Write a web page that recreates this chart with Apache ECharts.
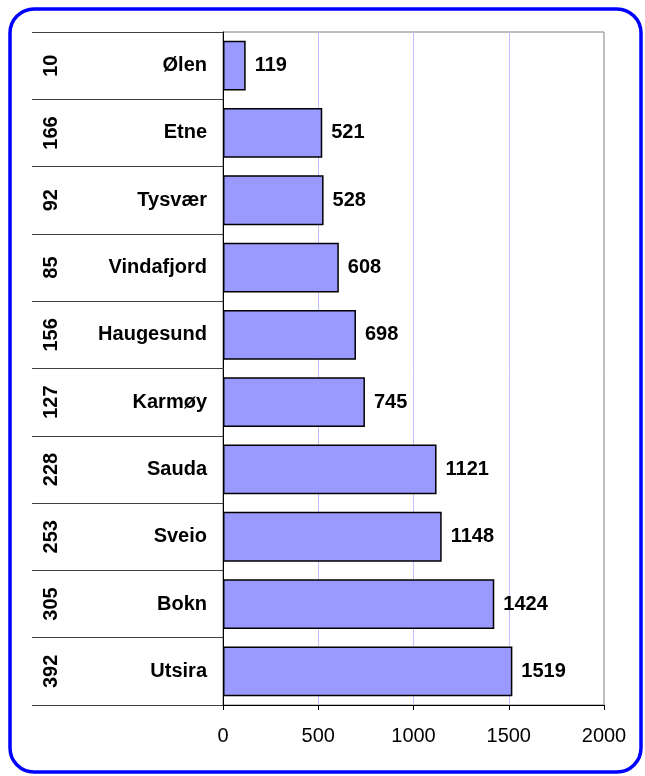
<!DOCTYPE html>
<html>
<head>
<meta charset="utf-8">
<script src="https://cdn.jsdelivr.net/npm/echarts@6/dist/echarts.min.js"></script>
<style>
  html, body { margin: 0; padding: 0; background: #fff; }
  #chart { width: 645px; height: 776px; }
</style>
</head>
<body>
<div id="chart"></div>
<script>
// kommuner, topp til bunn
const places = ["Ølen", "Etne", "Tysvær", "Vindafjord", "Haugesund", "Karmøy", "Sauda", "Sveio", "Bokn", "Utsira"];
const counts = ["10", "166", "92", "85", "156", "127", "228", "253", "305", "392"];
const values = [119, 521, 528, 608, 698, 745, 1121, 1148, 1424, 1519];
const xTicks = [0, 500, 1000, 1500, 2000];

const font = "Liberation Sans, Arial, sans-serif";

const chart = echarts.init(document.getElementById("chart"));
chart.setOption({
  animation: false,
  backgroundColor: "#fff",
  graphic: [{
    type: "rect",
    shape: { x: 10, y: 9, width: 631, height: 763, r: 24 },
    style: { fill: "none", stroke: "#0000ff", lineWidth: 3.5 },
    z: 100
  }],
  grid: {
    left: 223, right: 41, top: 32, bottom: 71,
    show: true, borderColor: "#808080", borderWidth: 1
  },
  xAxis: {
    type: "value",
    min: xTicks[0], max: xTicks[xTicks.length - 1], interval: 500,
    axisLine: { show: true, lineStyle: { color: "#000", width: 1 } },
    axisTick: { show: true, length: 5, lineStyle: { color: "#000" } },
    axisLabel: { margin: 21, fontFamily: font, fontSize: 20, color: "#000", formatter: v => String(v) },
    splitLine: { show: true, showMinLine: false, showMaxLine: false, lineStyle: { color: "#c0c0ff", width: 1 } }
  },
  yAxis: [{
    type: "category",
    data: places,
    inverse: true,
    axisLine: { show: true, lineStyle: { color: "#000" } },
    axisTick: { show: true, length: 191, lineStyle: { color: "#404040" } },
    axisLabel: { margin: 16, fontFamily: font, fontSize: 20, fontWeight: "bold", color: "#000" },
    splitLine: { show: false }
  }, {
    type: "category",
    data: counts,
    inverse: true,
    position: "left",
    offset: 162,
    axisLine: { show: false },
    axisTick: { show: false },
    axisLabel: { rotate: 90, margin: 0, fontFamily: font, fontSize: 20, fontWeight: "bold", color: "#000" },
    splitLine: { show: false }
  }],
  series: [{
    type: "bar",
    yAxisIndex: 0,
    data: values,
    barWidth: "74%",
    itemStyle: { color: "#9999ff", borderColor: "#000", borderWidth: 1.5 },
    label: {
      show: true, position: "right", distance: 9,
      fontFamily: font, fontSize: 20, fontWeight: "bold", color: "#000"
    }
  }]
});
</script>
</body>
</html>
